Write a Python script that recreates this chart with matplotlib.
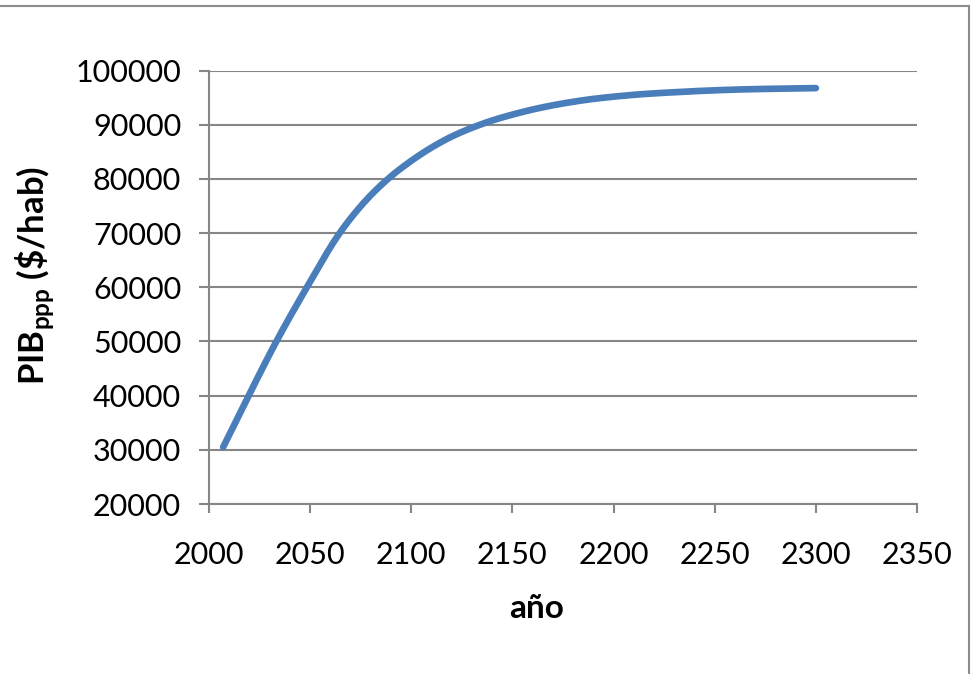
import matplotlib
matplotlib.use("Agg")
import matplotlib.pyplot as plt
from matplotlib.lines import Line2D
import numpy as np

# GDP per capita (PPP) projection, year vs $/hab
years = [2007, 2019.6, 2033.3, 2048.4, 2064.6, 2077, 2088.5, 2101, 2117, 2134,
         2155, 2183, 2208, 2233, 2258, 2282, 2300]
pib = [30500, 40000, 50000, 60000, 70000, 75800, 80000, 83600, 87250, 90000,
       92350, 94400, 95450, 96050, 96450, 96650, 96750]

x_ticks = [2000, 2050, 2100, 2150, 2200, 2250, 2300, 2350]
y_ticks = [20000, 30000, 40000, 50000, 60000, 70000, 80000, 90000, 100000]


def smooth(xs, ys, n=40):
    # cubic Hermite curve through the points (smoothed line)
    x = np.asarray(xs, float)
    y = np.asarray(ys, float)
    h = np.diff(x)
    d = np.diff(y) / h
    m = np.empty_like(y)
    m[1:-1] = (h[:-1] * d[1:] + h[1:] * d[:-1]) / (h[:-1] + h[1:])
    m[0] = d[0]
    m[-1] = d[-1]
    px, py = [], []
    for i in range(len(x) - 1):
        t = np.linspace(0, 1, n, endpoint=False)
        h00 = 2 * t ** 3 - 3 * t ** 2 + 1
        h10 = t ** 3 - 2 * t ** 2 + t
        h01 = -2 * t ** 3 + 3 * t ** 2
        h11 = t ** 3 - t ** 2
        px.append(x[i] + t * h[i])
        py.append(h00 * y[i] + h10 * h[i] * m[i] + h01 * y[i + 1] + h11 * h[i] * m[i + 1])
    px.append([x[-1]])
    py.append([y[-1]])
    return np.concatenate(px), np.concatenate(py)


plt.rcParams['font.family'] = ['Lato', 'DejaVu Sans']
plt.rcParams['mathtext.fontset'] = 'custom'
plt.rcParams['mathtext.rm'] = 'Lato'
plt.rcParams['mathtext.bf'] = 'Lato:bold'

grid_col = '#868686'

fig = plt.figure(figsize=(9.71, 6.74), dpi=100)
ax = fig.add_axes([209 / 971, 1 - 504 / 674, 708 / 971, 433.5 / 674])

sx, sy = smooth(years, pib)
ax.plot(sx, sy, color='#4a7ebb', lw=4.8, solid_capstyle='round', zorder=3)

ax.set_xlim(2000, 2350)
ax.set_ylim(20000, 100000)
ax.set_xticks(x_ticks)
ax.set_yticks(y_ticks)
ax.set_xticklabels([str(v) for v in x_ticks])
ax.set_yticklabels([str(v) for v in y_ticks])

ax.yaxis.grid(True, color=grid_col, lw=1.5)
ax.set_axisbelow(True)
for side in ['top', 'right']:
    ax.spines[side].set_visible(False)
for side in ['left', 'bottom']:
    ax.spines[side].set_color(grid_col)
    ax.spines[side].set_linewidth(1.5)

ax.tick_params(axis='y', length=7, width=1.5, color=grid_col, pad=13, labelsize=22)
ax.tick_params(axis='x', length=6.5, width=1.5, color=grid_col, pad=20, labelsize=22)

fig.text(537 / 971, 1 - 608 / 674, 'año', ha='center', va='center',
         fontsize=24, fontweight='bold')
fig.text(35 / 971, 1 - 275 / 674, r'PIB$_{\mathbf{ppp}}$ (\$/hab)', ha='center', va='center',
         rotation=90, fontsize=25, fontweight='bold')

# chart area border (top and right edges)
fig.add_artist(Line2D([0, 969 / 971], [1 - 6 / 674] * 2, transform=fig.transFigure,
                      color='#8c8c8c', lw=1.5))
fig.add_artist(Line2D([969 / 971] * 2, [1 - 6 / 674, 0], transform=fig.transFigure,
                      color='#8c8c8c', lw=1.5))

fig.savefig('out.png', dpi=100)
